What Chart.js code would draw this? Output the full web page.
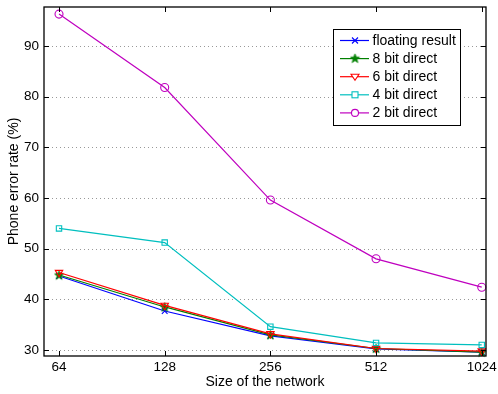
<!DOCTYPE html>
<html>
<head>
<meta charset="utf-8">
<script src="https://cdn.jsdelivr.net/npm/chart.js@4.4.1/dist/chart.umd.min.js"></script>
<style>
html,body{margin:0;padding:0;background:#fff;}
#wrap{width:498px;height:394px;}
</style>
</head>
<body>
<div id="wrap"><canvas id="c" width="498" height="394"></canvas></div>
<script>
const networkSizes = [64, 128, 256, 512, 1024];
const floatingResult = [44.6, 37.7, 32.8, 30.2, 29.6];
const bit8Direct = [44.8, 38.5, 33.0, 30.3, 29.6];
const bit6Direct = [45.3, 38.8, 33.2, 30.3, 29.8];
const bit4Direct = [54.0, 51.2, 34.6, 31.4, 31.0];
const bit2Direct = [96.3, 81.8, 59.6, 48.0, 42.4];
const yTickValues = [30, 40, 50, 60, 70, 80, 90];
const seriesLabels = ['floating result', '8 bit direct', '6 bit direct', '4 bit direct', '2 bit direct'];

const FONT = "'Liberation Sans', Arial, Helvetica, sans-serif";
const colors = ['#0000ff', '#008000', '#ff0000', '#00bfbf', '#bf00bf'];

function makeStar(color) {
  const cv = document.createElement('canvas');
  cv.width = 11; cv.height = 11;
  const g = cv.getContext('2d');
  g.fillStyle = color; g.strokeStyle = color; g.lineWidth = 0.8;
  g.beginPath();
  const cx = 5.5, cy = 5.8, R = 4.8, r = 2.0;
  for (let i = 0; i < 10; i++) {
    const a = -Math.PI / 2 + i * Math.PI / 5;
    const rad = i % 2 === 0 ? R : r;
    const px = cx + rad * Math.cos(a), py = cy + rad * Math.sin(a);
    if (i === 0) g.moveTo(px, py); else g.lineTo(px, py);
  }
  g.closePath(); g.fill(); g.stroke();
  return cv;
}
const starImg = makeStar('#008000');

const styles = [
  {pointStyle: 'crossRot', radius: 4, rotation: 0},
  {pointStyle: starImg, radius: 4, rotation: 0},
  {pointStyle: 'triangle', radius: 4.3, rotation: 180},
  {pointStyle: 'rect', radius: 3.8, rotation: 0},
  {pointStyle: 'circle', radius: 4, rotation: 0}
];
const seriesData = [floatingResult, bit8Direct, bit6Direct, bit4Direct, bit2Direct];

const datasets = seriesData.map((vals, i) => ({
  label: seriesLabels[i],
  data: vals.map((v, j) => ({x: networkSizes[j], y: v})),
  borderColor: colors[i],
  backgroundColor: 'rgba(0,0,0,0)',
  pointBorderColor: colors[i],
  pointBackgroundColor: 'rgba(0,0,0,0)',
  borderWidth: 1.2,
  pointBorderWidth: 1.1,
  pointStyle: styles[i].pointStyle,
  pointRadius: styles[i].radius,
  pointRotation: styles[i].rotation,
  tension: 0,
  order: 4 - i,
  clip: false
}));

function drawLegendMarker(ctx, i, x, y) {
  const c = colors[i];
  ctx.save();
  ctx.strokeStyle = c; ctx.lineWidth = 1.1;
  if (i === 0) {
    const d = 3;
    ctx.beginPath();
    ctx.moveTo(x - d, y - d); ctx.lineTo(x + d, y + d);
    ctx.moveTo(x - d, y + d); ctx.lineTo(x + d, y - d);
    ctx.stroke();
  } else if (i === 1) {
    ctx.drawImage(starImg, x - 5.5, y - 5.8);
  } else if (i === 2) {
    ctx.beginPath();
    ctx.moveTo(x - 4, y - 2.5); ctx.lineTo(x + 4, y - 2.5); ctx.lineTo(x, y + 3.5);
    ctx.closePath(); ctx.fillStyle = '#fff'; ctx.fill(); ctx.stroke();
  } else if (i === 3) {
    ctx.fillStyle = '#fff';
    ctx.fillRect(x - 3, y - 3, 6, 6);
    ctx.strokeRect(x - 3, y - 3, 6, 6);
  } else {
    ctx.beginPath(); ctx.arc(x, y, 3.5, 0, Math.PI * 2);
    ctx.fillStyle = '#fff'; ctx.fill(); ctx.stroke();
  }
  ctx.restore();
}

const matlabFrame = {
  id: 'matlabFrame',
  beforeDatasetsDraw(chart) {
    const ctx = chart.ctx, a = chart.chartArea, ys = chart.scales.y;
    ctx.save();
    ctx.strokeStyle = '#999';
    ctx.lineWidth = 1;
    ctx.setLineDash([1, 3]);
    yTickValues.forEach(v => {
      const py = Math.round(ys.getPixelForValue(v)) + 0.5;
      ctx.beginPath(); ctx.moveTo(a.left, py); ctx.lineTo(a.right, py); ctx.stroke();
    });
    ctx.restore();
  },
  afterDatasetsDraw(chart) {
    const ctx = chart.ctx, a = chart.chartArea, ys = chart.scales.y, xs = chart.scales.x;
    ctx.save();
    ctx.strokeStyle = '#000';
    ctx.lineWidth = 1.3;
    ctx.strokeRect(a.left, a.top, a.right - a.left, a.bottom - a.top);
    ctx.lineWidth = 1;
    const tl = 5;
    ctx.beginPath();
    yTickValues.forEach(v => {
      const py = Math.round(ys.getPixelForValue(v)) + 0.5;
      ctx.moveTo(a.left, py); ctx.lineTo(a.left + tl, py);
      ctx.moveTo(a.right, py); ctx.lineTo(a.right - tl, py);
    });
    networkSizes.forEach(v => {
      const px = Math.round(xs.getPixelForValue(v)) + 0.5;
      ctx.moveTo(px, a.bottom); ctx.lineTo(px, a.bottom - tl);
      ctx.moveTo(px, a.top); ctx.lineTo(px, a.top + tl);
    });
    ctx.stroke();

    // legend
    const lx = 333.5, ly = 29.5, lw = 127, lh = 96;
    ctx.fillStyle = '#fff';
    ctx.fillRect(lx, ly, lw, lh);
    ctx.strokeStyle = '#000'; ctx.lineWidth = 1;
    ctx.strokeRect(lx, ly, lw, lh);
    ctx.font = '14px ' + FONT;
    ctx.textBaseline = 'middle';
    ctx.textAlign = 'left';
    for (let i = 0; i < seriesLabels.length; i++) {
      const ry = 40.5 + i * 18.1;
      ctx.strokeStyle = colors[i]; ctx.lineWidth = 1.2;
      ctx.beginPath(); ctx.moveTo(340, ry); ctx.lineTo(369, ry); ctx.stroke();
      drawLegendMarker(ctx, i, 355, ry);
      ctx.fillStyle = '#000';
      ctx.fillText(seriesLabels[i], 372.5, ry + 0.5);
    }
    ctx.restore();
  }
};

function zeroPad(s) { s.paddingLeft = 0; s.paddingRight = 0; s.paddingTop = 0; s.paddingBottom = 0; }

new Chart(document.getElementById('c'), {
  type: 'line',
  data: {datasets},
  options: {
    responsive: false,
    animation: false,
    devicePixelRatio: 1,
    layout: {padding: {left: 0, right: 12, top: 7, bottom: 0}},
    plugins: {legend: {display: false}, tooltip: {enabled: false}},
    scales: {
      x: {
        type: 'logarithmic',
        min: 58.0,
        max: 1053,
        grid: {display: false, drawTicks: false},
        border: {display: false},
        afterBuildTicks: s => { s.ticks = networkSizes.map(v => ({value: v})); },
        ticks: {
          autoSkip: false, maxRotation: 0, padding: 3,
          color: '#000', font: {family: FONT, size: 13.5},
          callback: v => String(v)
        },
        title: {display: true, text: 'Size of the network', color: '#000',
                font: {family: FONT, size: 14}, padding: {top: 0, bottom: 3}},
        afterFit: s => { s.height = 38; zeroPad(s); }
      },
      y: {
        type: 'linear',
        min: 28.82,
        max: 97.7,
        grid: {display: false, drawTicks: false},
        border: {display: false},
        afterBuildTicks: s => { s.ticks = yTickValues.map(v => ({value: v})); },
        ticks: {padding: 5, color: '#000', font: {family: FONT, size: 13.5}},
        title: {display: true, text: 'Phone error rate (%)', color: '#000',
                font: {family: FONT, size: 14}, padding: {top: 6, bottom: 0}},
        afterFit: s => { s.width = 44; zeroPad(s); }
      }
    }
  },
  plugins: [matlabFrame]
});
</script>
</body>
</html>
